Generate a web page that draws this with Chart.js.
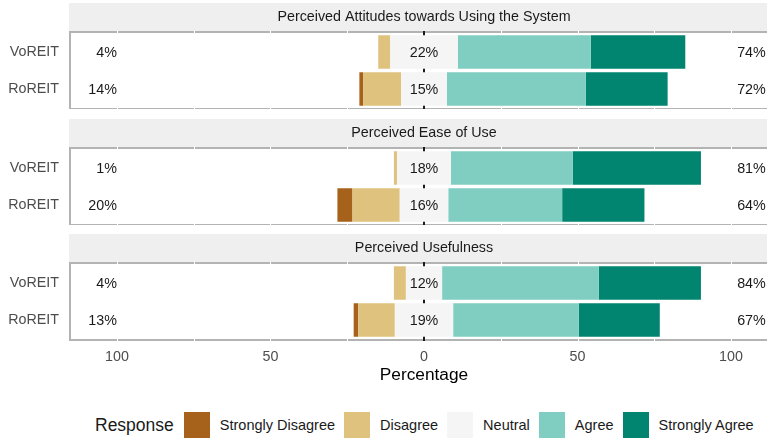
<!DOCTYPE html>
<html>
<head>
<meta charset="utf-8">
<script src="https://cdn.jsdelivr.net/npm/chart.js@4/dist/chart.umd.min.js"></script>
<style>
html,body{margin:0;padding:0;background:#fff;overflow:hidden;width:767px;height:440px;}
#wrap{position:relative;width:767px;height:440px;overflow:hidden;background:#fff;}
.box{position:absolute;left:0;width:790px;}
#legend{position:absolute;left:95px;top:412px;height:26px;display:flex;align-items:center;
  font-family:"Liberation Sans",Arial,Helvetica,sans-serif;font-size:14.5px;color:#1a1a1a;white-space:nowrap;}
#legend .ttl{font-size:17.5px;margin-right:10px;}
#legend .key{display:inline-block;width:26px;height:26px;margin-right:10px;}
#legend .lab{margin-right:9px;}
</style>
</head>
<body>
<div id="wrap">
  <div class="box" id="b0" style="top:3px;height:106px;"><canvas id="c0"></canvas></div>
  <div class="box" id="b1" style="top:119px;height:106px;"><canvas id="c1"></canvas></div>
  <div class="box" id="b2" style="top:234px;height:155px;"><canvas id="c2"></canvas></div>
  <div id="legend"></div>
</div>
<script>
// ---- data ----
const facetTitles = ["Perceived Attitudes towards Using the System", "Perceived Ease of Use", "Perceived Usefulness"];
const groups = ["VoREIT", "RoREIT"];
const responses = ["Strongly Disagree", "Disagree", "Neutral", "Agree", "Strongly Agree"];
// values per facet: [VoREIT, RoREIT]
const stronglyDisagree = [[0, 1.2], [0, 4.9], [0, 1.5]];
const disagree         = [[3.9, 12.4], [1.0, 15.4], [3.9, 11.9]];
const neutral          = [[22.0, 14.9], [17.6, 15.8], [11.8, 19.0]];
const agree            = [[43.3, 45.2], [39.7, 37.1], [51.0, 40.9]];
const stronglyAgree    = [[30.8, 26.7], [41.7, 26.8], [33.3, 26.4]];
const xTicks = [-100, -75, -50, -25, 0, 25, 50, 75, 100];
const xLabelTicks = [-100, -50, 0, 50, 100];

// ---- style ----
const palette = ["#A6611A", "#DFC27D", "#F5F5F5", "#80CDC1", "#018571"];
const FONT = '"Liberation Sans", Arial, Helvetica, sans-serif';
const X_MIN = -115.3, X_MAX = 115.3;
const STRIP_H = 29, PAD = 1.5;

const panelPlugin = {
  id: 'panel',
  beforeDatasetsDraw(chart, args, o) {
    const {ctx, chartArea: a} = chart;
    const xs = chart.scales.x;
    const top = a.top - PAD, bottom = a.bottom + PAD;
    ctx.save();
    // strip
    ctx.fillStyle = '#EFEFEF';
    ctx.fillRect(a.left - 1, top - STRIP_H, a.right - a.left + 2, STRIP_H);
    ctx.fillStyle = '#1a1a1a';
    ctx.font = '14.3px ' + FONT;
    ctx.textAlign = 'center';
    ctx.textBaseline = 'middle';
    ctx.fillText(o.title, (a.left + a.right) / 2, top - STRIP_H / 2);
    // panel border
    ctx.strokeStyle = '#B3B3B3';
    ctx.lineWidth = 2;
    ctx.strokeRect(a.left, top, a.right - a.left, bottom - top);
    // white grid lines
    ctx.strokeStyle = '#FFFFFF';
    ctx.lineWidth = 1;
    xTicks.forEach(v => {
      if (v === 0) return;
      const px = Math.round(xs.getPixelForValue(v)) + 0.5;
      ctx.beginPath(); ctx.moveTo(px, top - 1.5); ctx.lineTo(px, bottom + 1.5); ctx.stroke();
    });
    // zero line
    ctx.strokeStyle = '#1a1a1a';
    ctx.lineWidth = 2;
    const z = xs.getPixelForValue(0);
    ctx.beginPath(); ctx.moveTo(z, top - 1); ctx.lineTo(z, bottom + 1); ctx.stroke();
    ctx.restore();
  },
  afterDatasetsDraw(chart, args, o) {
    const {ctx} = chart;
    const xs = chart.scales.x, ys = chart.scales.y;
    const f = o.facet;
    ctx.save();
    ctx.fillStyle = '#1a1a1a';
    ctx.font = '14.3px ' + FONT;
    ctx.textBaseline = 'middle';
    groups.forEach((g, i) => {
      const y = ys.getPixelForValue(i) + 1.5;
      const low = Math.round(stronglyDisagree[f][i] + disagree[f][i]);
      const mid = Math.round(neutral[f][i]);
      const high = Math.round(agree[f][i] + stronglyAgree[f][i]);
      ctx.textAlign = 'right';
      ctx.fillText(low + '%', xs.getPixelForValue(-100), y);
      ctx.textAlign = 'center';
      ctx.fillText(mid + '%', xs.getPixelForValue(0), y);
      ctx.textAlign = 'left';
      ctx.fillText(high + '%', xs.getPixelForValue(102), y);
    });
    ctx.restore();
  }
};

function makeChart(f, showX) {
  const ds = (label, arr, sign, colorIdx, half) => ({
    label: label,
    data: groups.map((g, i) => sign * (half ? arr[f][i] / 2 : arr[f][i])),
    backgroundColor: palette[colorIdx],
    borderWidth: 0,
    inflateAmount: 0,
    barPercentage: 0.9,
    categoryPercentage: 1.0,
    stack: 's'
  });
  const datasets = [
    ds(responses[2], neutral, -1, 2, true),
    ds(responses[1], disagree, -1, 1, false),
    ds(responses[0], stronglyDisagree, -1, 0, false),
    ds(responses[2], neutral, 1, 2, true),
    ds(responses[3], agree, 1, 3, false),
    ds(responses[4], stronglyAgree, 1, 4, false)
  ];
  return new Chart(document.getElementById('c' + f), {
    type: 'bar',
    data: { labels: groups, datasets: datasets },
    options: {
      indexAxis: 'y',
      responsive: true,
      maintainAspectRatio: false,
      animation: false,
      devicePixelRatio: 1,
      layout: { padding: { top: STRIP_H + PAD, bottom: showX ? 0.5 : PAD, left: 0, right: 12 } },
      plugins: {
        legend: { display: false },
        tooltip: { enabled: false },
        panel: { title: facetTitles[f], facet: f }
      },
      scales: {
        x: {
          display: showX,
          stacked: true,
          min: X_MIN, max: X_MAX,
          grid: { display: false, drawTicks: false },
          border: { display: false },
          afterBuildTicks: s => { s.ticks = xTicks.map(v => ({ value: v })); },
          afterFit: s => { s.height = showX ? 50 : 0; s.paddingLeft = 0; s.paddingRight = 0; },
          ticks: {
            display: showX,
            autoSkip: false,
            maxRotation: 0,
            padding: 9.5,
            color: '#4D4D4D',
            font: { family: FONT, size: 14.3 },
            callback: v => xLabelTicks.includes(v) ? String(Math.abs(v)) : ''
          },
          title: {
            display: showX,
            text: 'Percentage',
            color: '#000000',
            font: { family: FONT, size: 17.3 },
            padding: { top: 0, bottom: 3.3 }
          }
        },
        y: {
          stacked: true,
          grid: { display: false, drawTicks: false },
          border: { display: false },
          afterFit: s => { s.width = 70; s.paddingTop = 0; s.paddingBottom = 0; },
          ticks: {
            padding: 11,
            color: '#4D4D4D',
            font: { family: FONT, size: 14.3 }
          }
        }
      }
    },
    plugins: [panelPlugin]
  });
}

makeChart(0, false);
makeChart(1, false);
makeChart(2, true);

// legend (HTML)
const leg = document.getElementById('legend');
const t = document.createElement('span'); t.className = 'ttl'; t.textContent = 'Response'; leg.appendChild(t);
responses.forEach((r, i) => {
  const k = document.createElement('span'); k.className = 'key'; k.style.background = palette[i]; leg.appendChild(k);
  const l = document.createElement('span'); l.className = 'lab'; l.textContent = r; leg.appendChild(l);
});
</script>
</body>
</html>
